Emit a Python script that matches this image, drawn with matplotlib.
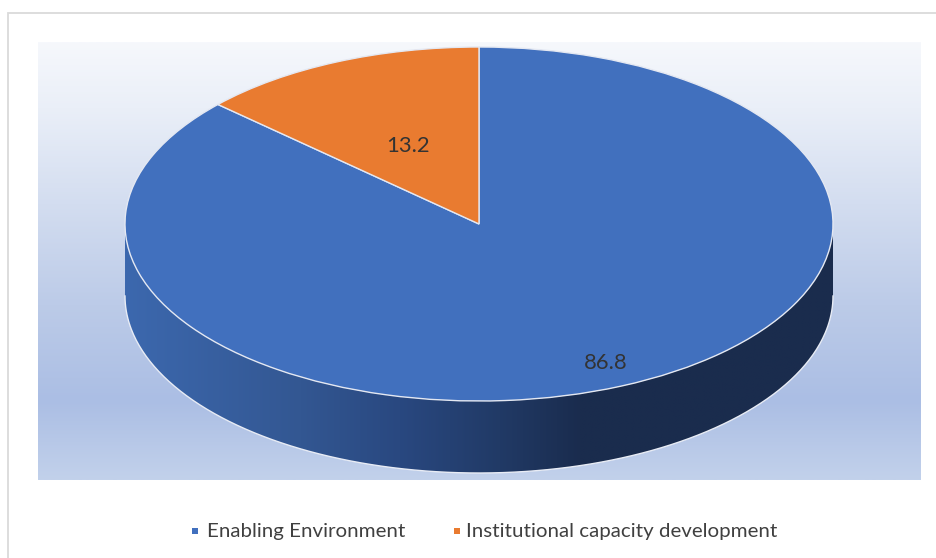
import numpy as np
import matplotlib
matplotlib.use("Agg")
import matplotlib.pyplot as plt
from matplotlib.colors import LinearSegmentedColormap
from matplotlib.patches import Polygon

categories = ["Enabling Environment", "Institutional capacity development"]
values = [86.8, 13.2]
colors = ["#4170BE", "#E97B30"]

W, H = 936, 558
cx, cy, rx, ry = 479.0, 224.0, 354.0, 177.0
depth = 72.0 / ry

plt.rcParams["font.family"] = ["Lato", "DejaVu Sans"]
fig = plt.figure(figsize=(W / 100, H / 100), dpi=100, facecolor="white")

# Pixel-space layer: frame, plot area background, legend
bg = fig.add_axes([0, 0, 1, 1], zorder=0)
bg.set_xlim(0, W)
bg.set_ylim(H, 0)
bg.axis("off")
bg.plot([7.5, 7.5, W], [H, 12.5, 12.5], color="#DADADA", lw=1.3, solid_joinstyle="miter")

bg_cmap = LinearSegmentedColormap.from_list(
    "bg",
    [(0.0, "#F6F8FC"), (0.15, "#EAEFF8"), (0.37, "#D3DDF0"), (0.60, "#BCCBE8"),
     (0.82, "#ABBEE4"), (1.0, "#C2D1EB")],
)
bg.imshow(np.linspace(0, 1, 256)[:, None], cmap=bg_cmap, aspect="auto",
          extent=(38, 921, 480, 42), zorder=1, interpolation="bilinear")
bg.set_xlim(0, W)
bg.set_ylim(H, 0)

# Pie layer: unit circle squashed into the ellipse
ax = fig.add_axes([0, 0, 1, 1], zorder=1)
ax.patch.set_alpha(0)
wedges, _ = ax.pie(values, colors=colors, startangle=90, counterclock=False, radius=1,
                   wedgeprops=dict(edgecolor="#E4E8F2", linewidth=1.0))
for w in wedges:
    w.set_zorder(5)
ax.set_frame_on(False)

# Side wall of the disc with a horizontal gradient
t = np.linspace(np.pi, 2 * np.pi, 300)
upper = np.column_stack([np.cos(t), np.sin(t)])
lower = np.column_stack([np.cos(t[::-1]), np.sin(t[::-1]) - depth])
wall = np.vstack([upper, lower])
wall_cmap = LinearSegmentedColormap.from_list(
    "wall",
    [(0.0, "#3C68AE"), (0.247, "#335792"), (0.388, "#294880"), (0.53, "#213A66"),
     (0.643, "#1A2C4E"), (1.0, "#1A2C4D")],
)
im = ax.imshow(np.linspace(0, 1, 256)[None, :], cmap=wall_cmap, aspect="auto",
               extent=(-1, 1, -1 - depth, 0), zorder=3, interpolation="bilinear")
patch = Polygon(wall, closed=True, transform=ax.transData, facecolor="none", edgecolor="none")
ax.add_patch(patch)
im.set_clip_path(patch)
ax.plot(lower[:, 0], lower[:, 1], color="#E8ECF5", lw=1.0, zorder=4)
ax.set_aspect("auto")
ax.set_xlim((0 - cx) / rx, (W - cx) / rx)
ax.set_ylim((cy - H) / ry, cy / ry)

# Data labels and legend
label_pos = [(606, 363), (408, 146)]
for v, (px, py) in zip(values, label_pos):
    ax.text((px - cx) / rx, (cy - py) / ry, f"{v:.1f}", ha="center", va="center",
            fontsize=15.8, color="#333333", zorder=6)

legend_pos = [(195, 207), (457, 466)]
for name, col, (mx, tx) in zip(categories, colors, legend_pos):
    bg.plot([mx], [530.5], marker="s", ms=4.6, color=col, mew=0, zorder=3)
    bg.text(tx, 531.5, name, ha="left", va="center", fontsize=14.75, color="#404040", zorder=3)

fig.savefig("out.png", dpi=100, facecolor="white")
